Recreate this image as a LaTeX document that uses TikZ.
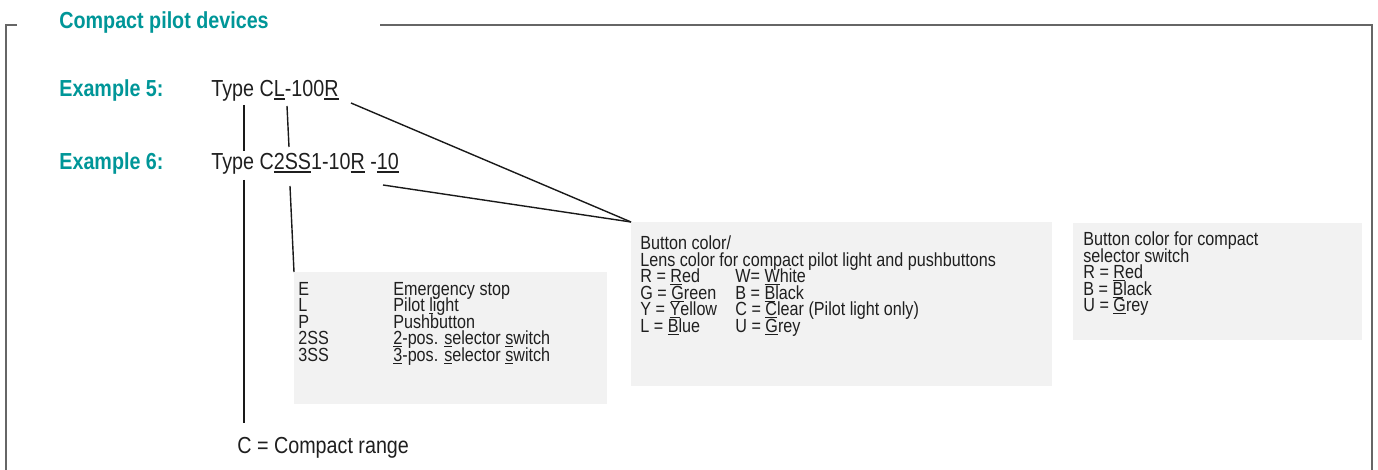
\documentclass[tikz,border=0pt]{standalone}
\usepackage{fontspec}
\setmainfont{Liberation Sans}[FakeStretch=0.85]
\definecolor{pilotteal}{RGB}{0,150,152}
\newcommand\undl[1]{{\sbox0{#1}\rlap{\rule[-0.11em]{\wd0}{0.05em}}\usebox0}}
\newcommand\col[1]{\makebox[47.5pt][l]{#1}}
\AtBeginDocument{\setlength{\lineskiplimit}{-10pt}}

\begin{document}
\begin{tikzpicture}[
    x=0.5pt, y=-0.5pt,
    heading/.style={anchor=base west, inner sep=0pt, text=pilotteal, font=\fontsize{11.6}{14}\selectfont\bfseries},
    code/.style={anchor=base west, inner sep=0pt, text=black!88, font=\fontsize{11.6}{14}\selectfont},
    legend/.style={anchor=north west, inner sep=0pt, fill=black!5},
    entry/.style={anchor=base west, inner sep=0pt, align=left, text=black!88, font=\fontsize{9.5}{8.25}\selectfont},
    frame/.style={draw=black!60, line width=1pt},
    link/.style={draw=black!90, line width=0.7pt}
  ]
    \useasboundingbox (0,0) rectangle (1378,470);

    % frame round the panel
    \draw[frame] (17,25) -| (6,470);
    \draw[frame] (380,25) -| (1372,470);

    \node[heading] (title) at (59,29) {Compact pilot devices};
    \node[heading] (ex5) at (59,97) {Example 5:};
    \node[heading] (ex6) at (59,170) {Example 6:};
    \node[code] (type5) at (211,97) {Type C\undl{L}-100\undl{R}};
    \node[code] (type6) at (211,170) {Type C\undl{2SS}1-10\undl{R} -\undl{10}};
    \node[code] (range) at (237,454) {C = Compact range};

    % legend boxes (text placed by its last baseline)
    \node[legend, minimum width=156.5pt, minimum height=66pt] (codes) at (294,272) {};
    \node[legend, minimum width=210.5pt, minimum height=82pt] (colors) at (631,222) {};
    \node[legend, minimum width=144.5pt, minimum height=58.5pt] (selcolors) at (1073,223) {};

    \node[entry] (codetext) at (298,361.5) {\col{E}Emergency stop\\
      \col{L}Pilot \undl{l}ight\\
      \col{P}Pushbutton\\
      \col{2SS}\undl{2}-pos. \undl{s}elector \undl{s}witch\\
      \col{3SS}\undl{3}-pos. \undl{s}elector \undl{s}witch};
    \node[entry] (colortext) at (640,332.5) {Button color/\\
      Lens color for compact pilot light and pushbuttons\\
      \col{R = \undl{R}ed}W= \undl{W}hite\\
      \col{G = \undl{G}reen}B = \undl{B}lack\\
      \col{Y = \undl{Y}ellow}C = \undl{C}lear (Pilot light only)\\
      \col{L = \undl{B}lue}U = \undl{G}rey};
    \node[entry] (seltext) at (1083,312) {Button color for compact\\
      selector switch\\
      R = \undl{R}ed\\
      B = \undl{B}lack\\
      U = \undl{G}rey};

    % connector ends on the type codes
    \coordinate (c5) at (244,105);
    \coordinate (c6top) at (244,151);
    \coordinate (l5) at (287,106);
    \coordinate (ss6top) at (289,147);
    \coordinate (r5) at (351,103);
    \coordinate (ten6) at (383,185);
    \coordinate (c6) at (244,180);
    \coordinate (rangetop) at (244,423);
    \coordinate (ss6) at (290,186);

    \draw[link] (c5) -- (c6top);
    \draw[link] (l5) -- (ss6top);
    \draw[link] (r5) -- (colors.north west);
    \draw[link] (ten6) -- (colors.north west);
    \draw[link] (c6) -- (rangetop);
    \draw[link] (ss6) -- (codes.north west);
  \end{tikzpicture}
\end{document}
